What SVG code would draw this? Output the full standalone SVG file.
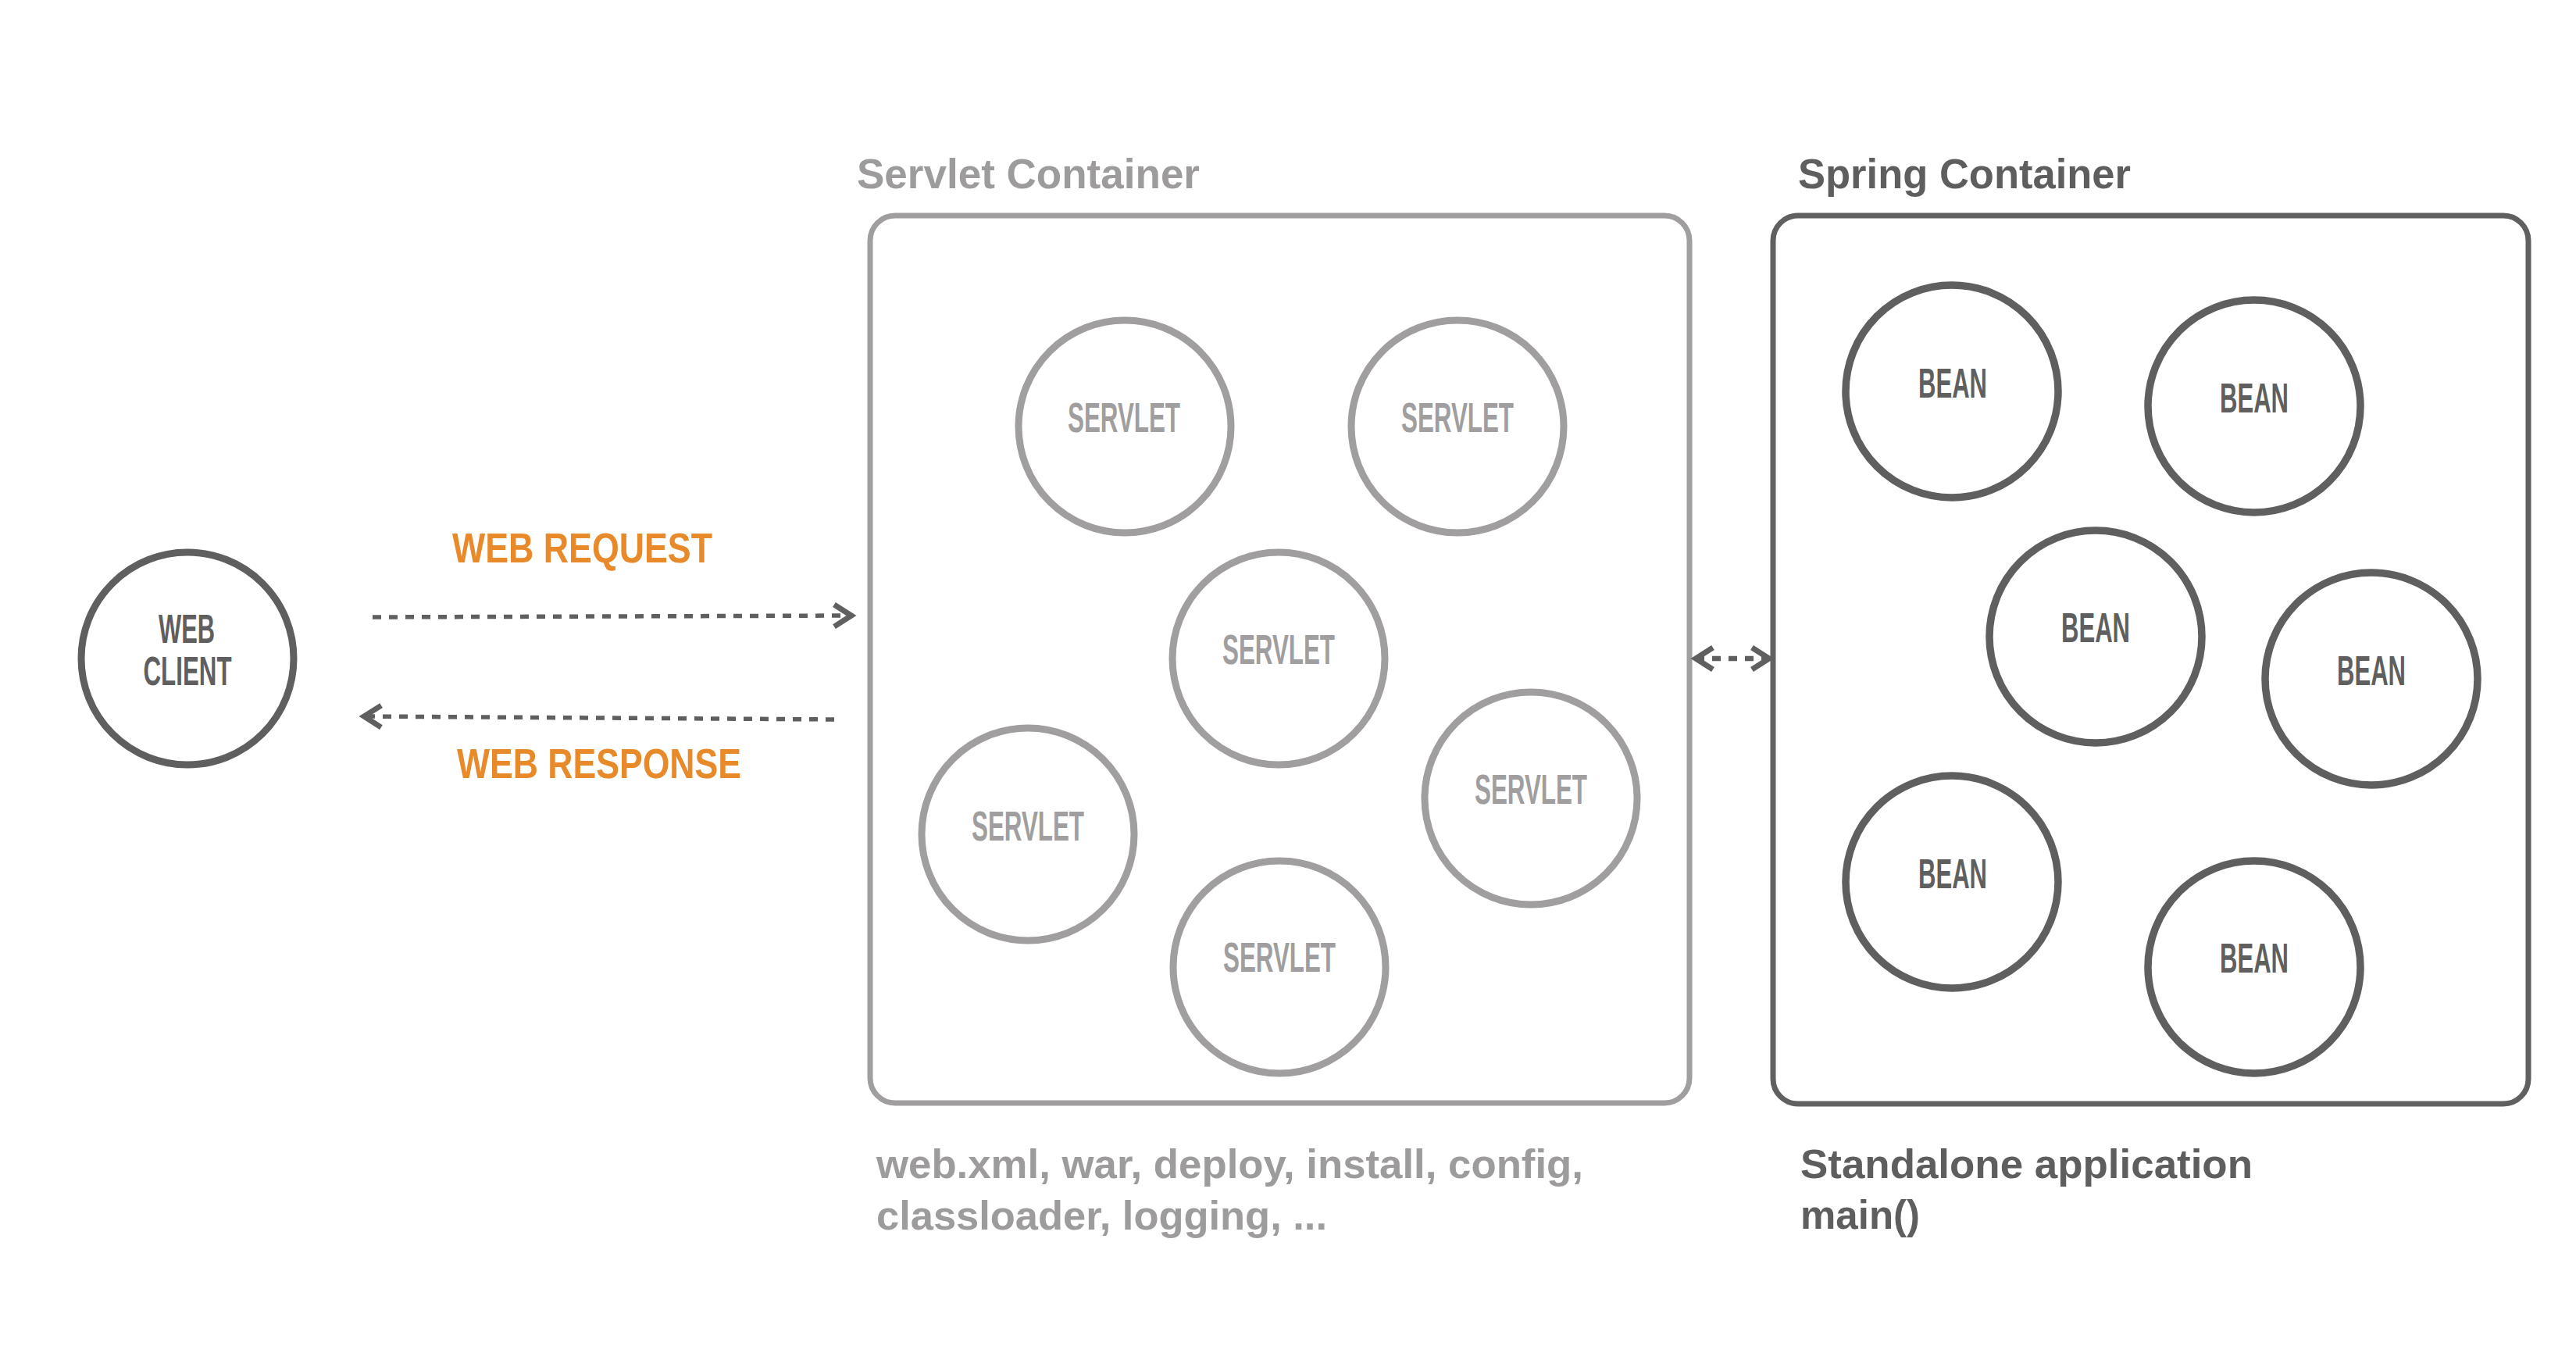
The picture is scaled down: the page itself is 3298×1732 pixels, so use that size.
<svg xmlns="http://www.w3.org/2000/svg" width="3298" height="1732" viewBox="0 0 3298 1732">
<style>
.bg{fill:#ffffff}
.box-s{fill:none;stroke:#A09E9E;stroke-width:7}
.box-p{fill:none;stroke:#606060;stroke-width:7}
.c-s{fill:#ffffff;stroke:#A09E9E;stroke-width:9}
.c-d{fill:#ffffff;stroke:#5F5F5F;stroke-width:9.5}
.lbl{font-family:"Liberation Sans Narrow","Liberation Sans",Arial,sans-serif;font-weight:bold;font-size:53px;text-anchor:middle}
.lbl-s{fill:#A09E9E}
.lbl-d{fill:#5F5F5F}
.orange{font-family:"Liberation Sans Narrow","Liberation Sans",Arial,sans-serif;font-weight:bold;font-size:53px;fill:#E8892A}
.title{font-family:"Liberation Sans",Arial,sans-serif;font-weight:bold;font-size:54px}
.note{font-family:"Liberation Sans",Arial,sans-serif;font-weight:bold;font-size:52px}
.gray{fill:#9D9B9B}
.dark{fill:#5E5E5E}
.conn{fill:none;stroke:#5F5F5F;stroke-width:5.5;stroke-dasharray:11 10}
</style>
<defs>
<marker id="chev" markerUnits="userSpaceOnUse" markerWidth="34" markerHeight="40" refX="24" refY="18" orient="auto-start-reverse">
<path d="M2,4 L24,18 L2,32" fill="none" stroke="#5F5F5F" stroke-width="7" stroke-linejoin="miter"/>
</marker>
</defs>
<rect class="bg" x="0" y="0" width="3298" height="1732"/>

<g id="servlet-container">
<text class="title gray" x="1097" y="241" textLength="439" lengthAdjust="spacingAndGlyphs">Servlet Container</text>
<rect class="box-s" x="1114" y="276" width="1049" height="1136" rx="32" ry="32"/>
<text class="note gray" x="1122" y="1508" textLength="905" lengthAdjust="spacingAndGlyphs">web.xml, war, deploy, install, config,</text>
<text class="note gray" x="1122" y="1574" textLength="577" lengthAdjust="spacingAndGlyphs">classloader, logging, ...</text>
</g>

<g id="spring-container">
<text class="title dark" x="2302" y="241" textLength="426" lengthAdjust="spacingAndGlyphs">Spring Container</text>
<rect class="box-p" x="2270" y="276" width="967" height="1137" rx="32" ry="32"/>
<text class="note dark" x="2305" y="1508" textLength="579" lengthAdjust="spacingAndGlyphs">Standalone application</text>
<text class="note dark" x="2305" y="1573" textLength="153" lengthAdjust="spacingAndGlyphs">main()</text>
</g>

<g id="web-client">
<circle class="c-d" cx="240" cy="843" r="136" style="stroke-width:9"/>
<text class="lbl lbl-d" x="239" y="823" style="font-size:51px" textLength="72" lengthAdjust="spacingAndGlyphs">WEB</text>
<text class="lbl lbl-d" x="240" y="877" style="font-size:51px" textLength="113" lengthAdjust="spacingAndGlyphs">CLIENT</text>
</g>

<g id="servlet-1"><circle class="c-s" cx="1440" cy="546" r="136"/><text class="lbl lbl-s" x="1439" y="553" textLength="144" lengthAdjust="spacingAndGlyphs">SERVLET</text></g>
<g id="servlet-2"><circle class="c-s" cx="1866" cy="546" r="136"/><text class="lbl lbl-s" x="1866" y="553" textLength="144" lengthAdjust="spacingAndGlyphs">SERVLET</text></g>
<g id="servlet-3"><circle class="c-s" cx="1637" cy="843" r="136"/><text class="lbl lbl-s" x="1637" y="850" textLength="144" lengthAdjust="spacingAndGlyphs">SERVLET</text></g>
<g id="servlet-4"><circle class="c-s" cx="1316" cy="1068" r="136"/><text class="lbl lbl-s" x="1316" y="1076" textLength="144" lengthAdjust="spacingAndGlyphs">SERVLET</text></g>
<g id="servlet-5"><circle class="c-s" cx="1960" cy="1022" r="136"/><text class="lbl lbl-s" x="1960" y="1029" textLength="144" lengthAdjust="spacingAndGlyphs">SERVLET</text></g>
<g id="servlet-6"><circle class="c-s" cx="1638" cy="1238" r="136"/><text class="lbl lbl-s" x="1638" y="1244" textLength="144" lengthAdjust="spacingAndGlyphs">SERVLET</text></g>

<g id="bean-1"><circle class="c-d" cx="2499" cy="501" r="136"/><text class="lbl lbl-d" x="2500" y="509" textLength="88" lengthAdjust="spacingAndGlyphs">BEAN</text></g>
<g id="bean-2"><circle class="c-d" cx="2886" cy="520" r="136"/><text class="lbl lbl-d" x="2886" y="528" textLength="88" lengthAdjust="spacingAndGlyphs">BEAN</text></g>
<g id="bean-3"><circle class="c-d" cx="2683" cy="815" r="136"/><text class="lbl lbl-d" x="2683" y="822" textLength="88" lengthAdjust="spacingAndGlyphs">BEAN</text></g>
<g id="bean-4"><circle class="c-d" cx="3036" cy="869" r="136"/><text class="lbl lbl-d" x="3036" y="877" textLength="88" lengthAdjust="spacingAndGlyphs">BEAN</text></g>
<g id="bean-5"><circle class="c-d" cx="2499" cy="1129" r="136"/><text class="lbl lbl-d" x="2500" y="1137" textLength="88" lengthAdjust="spacingAndGlyphs">BEAN</text></g>
<g id="bean-6"><circle class="c-d" cx="2886" cy="1238" r="136"/><text class="lbl lbl-d" x="2886" y="1245" textLength="88" lengthAdjust="spacingAndGlyphs">BEAN</text></g>

<g id="connectors">
<path class="conn" d="M477,790 L1090,788" marker-end="url(#chev)"/>
<path class="conn" d="M1068,921 L466,917" marker-end="url(#chev)"/>
<path class="conn" d="M2171,843 L2265,843" marker-start="url(#chev)" marker-end="url(#chev)" style="stroke-width:6.5"/>
<text class="orange" x="579" y="720" textLength="333" lengthAdjust="spacingAndGlyphs">WEB REQUEST</text>
<text class="orange" x="585" y="996" textLength="364" lengthAdjust="spacingAndGlyphs">WEB RESPONSE</text>
</g>
</svg>
